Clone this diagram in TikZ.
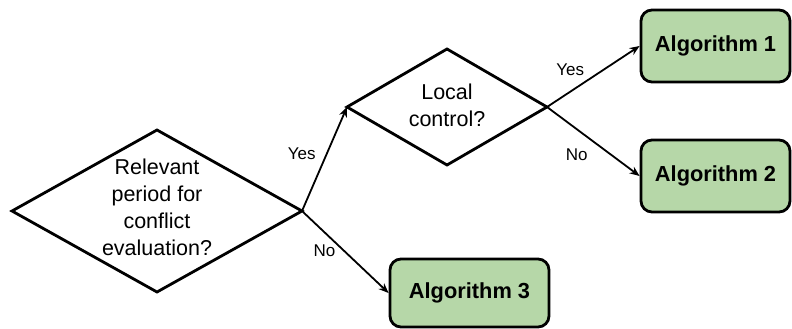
\documentclass[tikz,border=0pt]{standalone}
\usepackage{fontspec}
\setmainfont{Liberation Sans}
\usetikzlibrary{shapes.geometric,arrows.meta}
\definecolor{algfill}{HTML}{B6D7A8}
\tikzset{
  dia/.style={diamond, draw=black, line width=2.8pt, inner sep=0pt, outer sep=0pt},
  dtext/.style={align=center, font=\fontsize{21.5}{27}\selectfont, inner sep=0pt},
  algbox/.style={draw=black, fill=algfill, line width=2.8pt, rounded corners=11pt,
    font=\fontsize{21.8}{25}\selectfont\bfseries, inner sep=0pt},
  conn/.style={line width=1.8pt, -{Stealth[length=10pt,width=8pt]}},
  lbl/.style={font=\fontsize{17}{20}\selectfont, inner sep=0pt}
}
\begin{document}
\begin{tikzpicture}[x=1pt,y=-1pt]
\useasboundingbox (0,0) rectangle (792,329);
% decision diamonds
\node[dia, minimum width=290pt, minimum height=162pt] (q1) at (157,211) {};
\node[dtext] (q1t) at (157,207) {Relevant\\period for\\conflict\\evaluation?};
\node[dia, minimum width=200pt, minimum height=116pt] (q2) at (447,107) {};
\node[dtext] (q2t) at (447,105) {Local\\control?};
% outcome boxes
\node[algbox, minimum width=149pt, minimum height=72pt] (a1) at (715.5,46) {Algorithm 1};
\node[algbox, minimum width=149pt, minimum height=72pt] (a2) at (715.5,176) {Algorithm 2};
\node[algbox, minimum width=159pt, minimum height=68pt] (a3) at (469.5,293) {Algorithm 3};
% connectors
\draw[conn] (q1.east) -- node[lbl, pos=0.55, xshift=-25pt] {Yes} (q2.west);
\draw[conn] (q1.east) -- node[lbl, pos=0.26, yshift=-18pt] {No} (a3.west);
\draw[conn] (q2.east) -- node[lbl, pos=0.25, yshift=22pt] {Yes} (a1.west);
\draw[conn] (q2.east) -- node[lbl, pos=0.32, yshift=-26pt] {No} (a2.west);
\end{tikzpicture}
\end{document}
